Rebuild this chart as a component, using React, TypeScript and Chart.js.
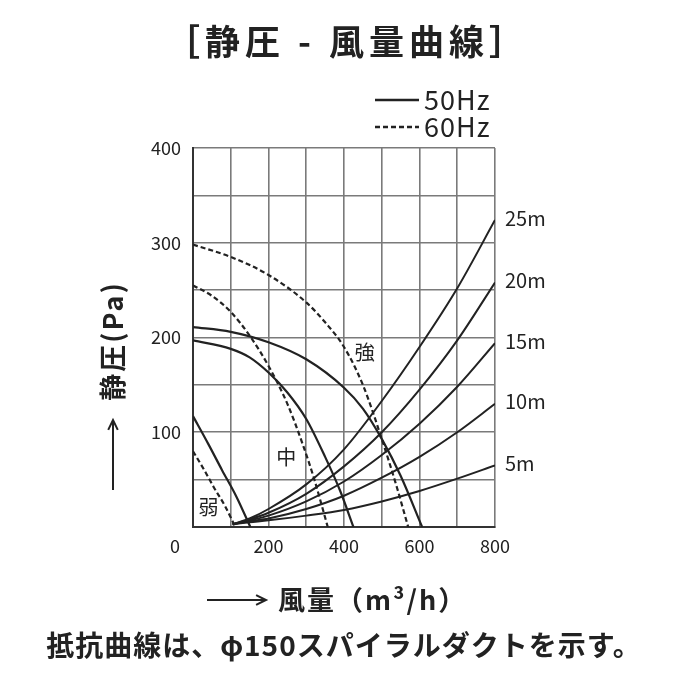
import { useEffect, useRef } from 'react';
import { Chart, registerables } from 'chart.js';

Chart.register(...registerables);

// fan curves (flow m3/h, static pressure Pa)
const flow50Strong = [0, 100, 200, 300, 400, 450, 500, 550, 607];
const pres50Strong = [211, 206, 195, 177, 147, 125, 93, 54, 0];
const flow60Strong = [0, 100, 200, 300, 350, 400, 450, 500, 540, 570];
const pres60Strong = [298, 285, 266, 237, 216, 190, 150, 93, 42, 0];
const flow50Mid = [0, 100, 150, 200, 250, 300, 350, 390, 425];
const pres50Mid = [197, 188, 179, 163, 142, 114, 74, 38, 0];
const flow60Mid = [0, 50, 100, 150, 200, 250, 290, 320, 357];
const pres60Mid = [255, 244, 227, 202, 170, 130, 88, 52, 0];
const flow50Weak = [0, 40, 77, 115, 152];
const pres50Weak = [117, 88, 60, 32, 0];
const flow60Weak = [0, 30, 55, 85, 112];
const pres60Weak = [80, 60, 42, 22, 0];

// duct resistance curves
const ductFlow = [105, 150, 200, 300, 400, 500, 600, 700, 800];
const duct25m = [3, 9, 19, 45, 82, 133, 190, 252, 324];
const duct20m = [3, 8, 15, 35, 64, 100, 145, 197, 258];
const duct15m = [3, 7, 12, 27, 48, 76, 109, 148, 194];
const duct10m = [3, 6, 9, 19, 33, 52, 74, 100, 130];
const duct5m = [3, 5, 7, 12, 18, 27, 38, 51, 65];
const ductLabels = ['25m', '20m', '15m', '10m', '5m'];

const flowTicks = [200, 400, 600, 800];
const pressureTicks = [100, 200, 300, 400];

const FONT = '"Noto Sans CJK JP", "Noto Sans", sans-serif';
const INK = '#222';

const pts = (xs: number[], ys: number[]) => xs.map((x, i) => ({ x, y: ys[i] }));

const fan = (xs: number[], ys: number[], dashed: boolean) => ({
  data: pts(xs, ys),
  borderColor: INK,
  borderWidth: 2.2,
  borderDash: dashed ? [5, 3] : [],
  pointRadius: 0,
  cubicInterpolationMode: 'monotone' as const,
  fill: false,
});

const duct = (ys: number[]) => ({
  data: pts(ductFlow, ys),
  borderColor: INK,
  borderWidth: 2,
  pointRadius: 0,
  cubicInterpolationMode: 'monotone' as const,
  fill: false,
});

const arrow = (ctx: CanvasRenderingContext2D, x1: number, y1: number, x2: number, y2: number) => {
  const a = Math.atan2(y2 - y1, x2 - x1);
  ctx.beginPath();
  ctx.moveTo(x1, y1);
  ctx.lineTo(x2, y2);
  ctx.moveTo(x2 - 11 * Math.cos(a - 0.45), y2 - 11 * Math.sin(a - 0.45));
  ctx.lineTo(x2, y2);
  ctx.lineTo(x2 - 11 * Math.cos(a + 0.45), y2 - 11 * Math.sin(a + 0.45));
  ctx.stroke();
};

const spaced = (ctx: CanvasRenderingContext2D, px: number) => {
  (ctx as any).letterSpacing = `${px}px`;
};

const textPlugin = {
  id: 'pqText',
  afterDraw(chart: Chart) {
    const { ctx, chartArea } = chart;
    const xs = chart.scales.x;
    const ys = chart.scales.y;
    ctx.save();
    ctx.fillStyle = INK;
    ctx.strokeStyle = INK;

    // title
    ctx.font = `bold 35px ${FONT}`;
    spaced(ctx, 5);
    ctx.textAlign = 'center';
    ctx.textBaseline = 'middle';
    ctx.fillText('［静圧 - 風量曲線］', 347, 42);
    spaced(ctx, 0);

    // legend
    ctx.lineWidth = 2.5;
    ctx.beginPath();
    ctx.moveTo(375, 100);
    ctx.lineTo(419, 100);
    ctx.stroke();
    ctx.setLineDash([5, 3]);
    ctx.beginPath();
    ctx.moveTo(375, 127);
    ctx.lineTo(419, 127);
    ctx.stroke();
    ctx.setLineDash([]);
    ctx.font = `27px ${FONT}`;
    spaced(ctx, 1);
    ctx.textAlign = 'left';
    ctx.fillText('50Hz', 424, 100);
    ctx.fillText('60Hz', 424, 127);
    spaced(ctx, 0);

    // axis tick labels
    ctx.font = `18px ${FONT}`;
    ctx.textAlign = 'right';
    pressureTicks.forEach((v) => ctx.fillText(String(v), chartArea.left - 12, ys.getPixelForValue(v)));
    ctx.textAlign = 'center';
    const tickY = chartArea.bottom + 19;
    ctx.fillText('0', chartArea.left - 18, tickY);
    flowTicks.forEach((v) => ctx.fillText(String(v), xs.getPixelForValue(v), tickY));

    // duct length labels at curve ends
    ctx.font = `20px ${FONT}`;
    ctx.textAlign = 'left';
    [duct25m, duct20m, duct15m, duct10m, duct5m].forEach((arr, i) => {
      ctx.fillText(ductLabels[i], chartArea.right + 10, ys.getPixelForValue(arr[arr.length - 1]) - 2);
    });

    // fan speed labels
    ctx.font = `20px ${FONT}`;
    ctx.textAlign = 'center';
    ctx.fillText('強', xs.getPixelForValue(455), ys.getPixelForValue(184));
    ctx.fillText('中', xs.getPixelForValue(247), ys.getPixelForValue(73));
    ctx.fillText('弱', xs.getPixelForValue(41), ys.getPixelForValue(21));

    // axis titles
    ctx.lineWidth = 2;
    ctx.font = `bold 27px ${FONT}`;
    spaced(ctx, 2);
    ctx.save();
    ctx.translate(113, 341);
    ctx.rotate(-Math.PI / 2);
    ctx.fillText('静圧(Pa)', 0, 0);
    ctx.restore();
    arrow(ctx, 113, 490, 113, 420);

    arrow(ctx, 207, 600, 266, 600);
    ctx.textAlign = 'left';
    ctx.fillText('風量（m³/h）', 278, 600);
    spaced(ctx, 0);

    // note
    ctx.font = `bold 28px ${FONT}`;
    spaced(ctx, 1);
    ctx.textAlign = 'center';
    ctx.fillText('抵抗曲線は、φ150スパイラルダクトを示す。', 344, 645);
    spaced(ctx, 0);
    ctx.restore();
  },
};

const PqChart = () => {
  const canvasRef = useRef<HTMLCanvasElement | null>(null);

  useEffect(() => {
    if (!canvasRef.current) return;
    const ctx = canvasRef.current.getContext('2d');
    if (!ctx) return;

    const gridColor = '#7a7a7a';

    const chart = new Chart(ctx, {
      type: 'line',
      data: {
        datasets: [
          fan(flow60Strong, pres60Strong, true),
          fan(flow50Strong, pres50Strong, false),
          fan(flow60Mid, pres60Mid, true),
          fan(flow50Mid, pres50Mid, false),
          fan(flow60Weak, pres60Weak, true),
          fan(flow50Weak, pres50Weak, false),
          duct(duct25m),
          duct(duct20m),
          duct(duct15m),
          duct(duct10m),
          duct(duct5m),
        ],
      },
      options: {
        responsive: false,
        animation: false,
        layout: { padding: { left: 193, right: 205, top: 148, bottom: 173 } },
        plugins: { legend: { display: false }, tooltip: { enabled: false } },
        scales: {
          x: {
            type: 'linear',
            min: 0,
            max: 800,
            ticks: { stepSize: 100, display: false },
            grid: { color: gridColor, lineWidth: 1.6, drawTicks: false },
            border: { color: '#333', width: 2 },
          },
          y: {
            type: 'linear',
            min: 0,
            max: 400,
            ticks: { stepSize: 50, display: false },
            grid: { color: gridColor, lineWidth: 1.6, drawTicks: false },
            border: { color: '#333', width: 2 },
          },
        },
      },
      plugins: [textPlugin],
    });

    return () => chart.destroy();
  }, []);

  return (
    <div style={{ position: 'fixed', left: 0, top: 0, width: 700, height: 700, background: '#fff' }}>
      <canvas ref={canvasRef} width={700} height={700} />
    </div>
  );
};

export default function App() {
  return <PqChart />;
}
